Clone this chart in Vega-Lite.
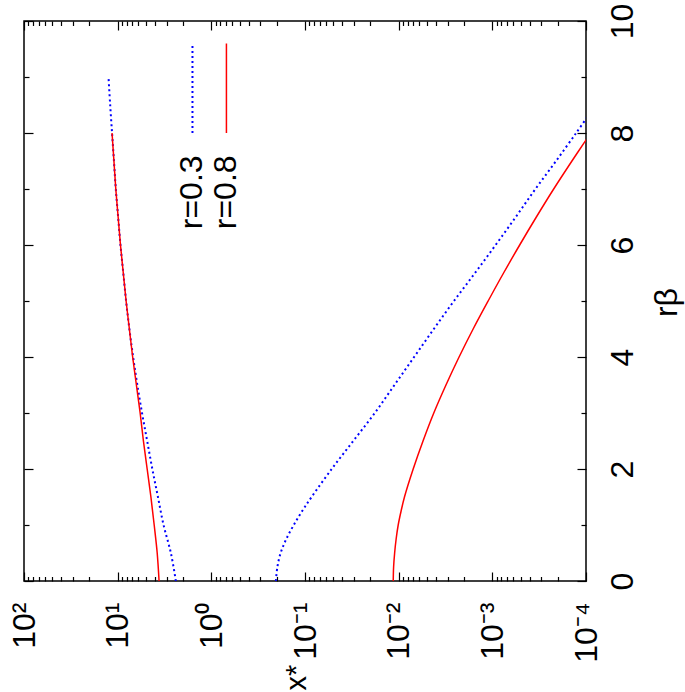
{
  "$schema": "https://vega.github.io/schema/vega-lite/v6.json",
  "width": 562,
  "height": 560,
  "autosize": {"type": "none"},
  "padding": {"left": 24, "top": 21, "right": 99, "bottom": 111},
  "background": "white",
  "config": {
    "view": {"stroke": "#000000", "strokeWidth": 1.5},
    "font": "Liberation Sans",
    "axis": {"domain": false, "grid": false, "tickColor": "#000000", "tickWidth": 1.2, "labelColor": "#000000", "titleColor": "#000000", "labelFont": "Liberation Sans", "titleFont": "Liberation Sans", "labelFontSize": 32, "titleFontSize": 32, "titleFontWeight": "normal", "labelOverlap": false, "labelFlush": false, "labelBound": false}
  },
  "datasets": {
    "curves": [
      {"r": "0.3", "branch": "upper", "rb": 0, "xs": 2.393},
      {"r": "0.3", "branch": "upper", "rb": 0.5, "xs": 2.704},
      {"r": "0.3", "branch": "upper", "rb": 1, "xs": 3.236},
      {"r": "0.3", "branch": "upper", "rb": 1.5, "xs": 3.715},
      {"r": "0.3", "branch": "upper", "rb": 2, "xs": 4.266},
      {"r": "0.3", "branch": "upper", "rb": 2.5, "xs": 4.842},
      {"r": "0.3", "branch": "upper", "rb": 3, "xs": 5.495},
      {"r": "0.3", "branch": "upper", "rb": 3.5, "xs": 6.166},
      {"r": "0.3", "branch": "upper", "rb": 4, "xs": 6.839},
      {"r": "0.3", "branch": "upper", "rb": 4.5, "xs": 7.499},
      {"r": "0.3", "branch": "upper", "rb": 5, "xs": 8.128},
      {"r": "0.3", "branch": "upper", "rb": 5.5, "xs": 8.71},
      {"r": "0.3", "branch": "upper", "rb": 6, "xs": 9.333},
      {"r": "0.3", "branch": "upper", "rb": 6.5, "xs": 9.886},
      {"r": "0.3", "branch": "upper", "rb": 7, "xs": 10.47},
      {"r": "0.3", "branch": "upper", "rb": 7.5, "xs": 10.96},
      {"r": "0.3", "branch": "upper", "rb": 8, "xs": 11.48},
      {"r": "0.3", "branch": "upper", "rb": 8.5, "xs": 12.02},
      {"r": "0.3", "branch": "upper", "rb": 9, "xs": 12.53},
      {"r": "0.3", "branch": "lower", "rb": 0, "xs": 0.2046},
      {"r": "0.3", "branch": "lower", "rb": 0.25, "xs": 0.1972},
      {"r": "0.3", "branch": "lower", "rb": 0.5, "xs": 0.182},
      {"r": "0.3", "branch": "lower", "rb": 0.75, "xs": 0.1585},
      {"r": "0.3", "branch": "lower", "rb": 1, "xs": 0.1318},
      {"r": "0.3", "branch": "lower", "rb": 1.25, "xs": 0.1072},
      {"r": "0.3", "branch": "lower", "rb": 1.5, "xs": 0.08511},
      {"r": "0.3", "branch": "lower", "rb": 2, "xs": 0.05188},
      {"r": "0.3", "branch": "lower", "rb": 2.5, "xs": 0.03055},
      {"r": "0.3", "branch": "lower", "rb": 3, "xs": 0.01799},
      {"r": "0.3", "branch": "lower", "rb": 3.5, "xs": 0.01109},
      {"r": "0.3", "branch": "lower", "rb": 4, "xs": 0.006839},
      {"r": "0.3", "branch": "lower", "rb": 4.5, "xs": 0.004217},
      {"r": "0.3", "branch": "lower", "rb": 5, "xs": 0.00257},
      {"r": "0.3", "branch": "lower", "rb": 5.5, "xs": 0.001531},
      {"r": "0.3", "branch": "lower", "rb": 6, "xs": 0.0009226},
      {"r": "0.3", "branch": "lower", "rb": 6.5, "xs": 0.0005623},
      {"r": "0.3", "branch": "lower", "rb": 7, "xs": 0.0003467},
      {"r": "0.3", "branch": "lower", "rb": 7.5, "xs": 0.0002089},
      {"r": "0.3", "branch": "lower", "rb": 8, "xs": 0.0001274},
      {"r": "0.3", "branch": "lower", "rb": 8.3, "xs": 0.0000955},
      {"r": "0.8", "branch": "upper", "rb": 0, "xs": 3.614},
      {"r": "0.8", "branch": "upper", "rb": 0.5, "xs": 3.784},
      {"r": "0.8", "branch": "upper", "rb": 1, "xs": 4.074},
      {"r": "0.8", "branch": "upper", "rb": 1.5, "xs": 4.416},
      {"r": "0.8", "branch": "upper", "rb": 2, "xs": 4.842},
      {"r": "0.8", "branch": "upper", "rb": 2.5, "xs": 5.309},
      {"r": "0.8", "branch": "upper", "rb": 3, "xs": 5.754},
      {"r": "0.8", "branch": "upper", "rb": 3.5, "xs": 6.31},
      {"r": "0.8", "branch": "upper", "rb": 4, "xs": 6.918},
      {"r": "0.8", "branch": "upper", "rb": 4.5, "xs": 7.499},
      {"r": "0.8", "branch": "upper", "rb": 5, "xs": 8.128},
      {"r": "0.8", "branch": "upper", "rb": 5.5, "xs": 8.71},
      {"r": "0.8", "branch": "upper", "rb": 6, "xs": 9.333},
      {"r": "0.8", "branch": "upper", "rb": 6.5, "xs": 9.886},
      {"r": "0.8", "branch": "upper", "rb": 7, "xs": 10.47},
      {"r": "0.8", "branch": "upper", "rb": 7.5, "xs": 10.96},
      {"r": "0.8", "branch": "upper", "rb": 8, "xs": 11.48},
      {"r": "0.8", "branch": "lower", "rb": 0, "xs": 0.011429},
      {"r": "0.8", "branch": "lower", "rb": 0.25, "xs": 0.011324},
      {"r": "0.8", "branch": "lower", "rb": 0.5, "xs": 0.011041},
      {"r": "0.8", "branch": "lower", "rb": 0.75, "xs": 0.010641},
      {"r": "0.8", "branch": "lower", "rb": 1, "xs": 0.010116},
      {"r": "0.8", "branch": "lower", "rb": 1.25, "xs": 0.009419},
      {"r": "0.8", "branch": "lower", "rb": 1.5, "xs": 0.00867},
      {"r": "0.8", "branch": "lower", "rb": 2, "xs": 0.006998},
      {"r": "0.8", "branch": "lower", "rb": 2.5, "xs": 0.005495},
      {"r": "0.8", "branch": "lower", "rb": 3, "xs": 0.004217},
      {"r": "0.8", "branch": "lower", "rb": 3.5, "xs": 0.003126},
      {"r": "0.8", "branch": "lower", "rb": 4, "xs": 0.002265},
      {"r": "0.8", "branch": "lower", "rb": 4.5, "xs": 0.001603},
      {"r": "0.8", "branch": "lower", "rb": 5, "xs": 0.001109},
      {"r": "0.8", "branch": "lower", "rb": 5.5, "xs": 0.0007586},
      {"r": "0.8", "branch": "lower", "rb": 6, "xs": 0.0005105},
      {"r": "0.8", "branch": "lower", "rb": 6.5, "xs": 0.0003388},
      {"r": "0.8", "branch": "lower", "rb": 7, "xs": 0.0002213},
      {"r": "0.8", "branch": "lower", "rb": 7.5, "xs": 0.0001413},
      {"r": "0.8", "branch": "lower", "rb": 7.9, "xs": 0.00009772}
    ],
    "legend": [
      {"r": "0.3", "label": "r=0.3", "lx": 1.59, "ly0": 8.0, "ly1": 9.57, "lt": 7.6},
      {"r": "0.8", "label": "r=0.8", "lx": 0.69, "ly0": 8.0, "ly1": 9.6, "lt": 7.6}
    ]
  },
  "resolve": {"axis": {"x": "independent", "y": "independent"}},
  "layer": [
    {
      "data": {"name": "curves"},
      "transform": [{"filter": "datum.r == '0.3'"}],
      "mark": {"type": "line", "color": "#0000ff", "strokeWidth": 2, "strokeDash": [2, 3], "clip": true, "interpolate": "catmull-rom"},
      "encoding": {
        "x": {"field": "xs", "type": "quantitative",
          "scale": {"type": "log", "domain": [0.0001, 100], "reverse": true, "nice": false},
          "axis": {"orient": "bottom", "values": [0.0001, 0.001, 0.01, 0.1, 1, 10, 100],
            "labelExpr": "'10' + ['⁻⁴','⁻³','⁻²','⁻¹','⁰','¹','²'][round(log(datum.value)/LN10)+4]",
            "labelAngle": -90, "labelAlign": "right", "labelBaseline": "middle",
            "tickSize": -9, "labelPadding": 30,
            "title": "x*", "titleFontSize": 29, "titleAngle": -90, "titleAlign": "center", "titleBaseline": "middle", "titleX": 272, "titleY": 96}},
        "y": {"field": "rb", "type": "quantitative",
          "scale": {"domain": [0, 10], "nice": false, "zero": false},
          "axis": {"orient": "right", "values": [0, 2, 4, 6, 8, 10],
            "labelAngle": -90, "labelAlign": "center", "labelBaseline": "top",
            "tickSize": -9, "labelPadding": 30,
            "title": "rβ", "titleAngle": -90, "titleAlign": "center", "titleBaseline": "middle", "titleX": 80, "titleY": 281}},
        "detail": {"field": "branch"},
        "order": {"field": "rb", "type": "quantitative"}
      }
    },
    {
      "data": {"name": "curves"},
      "transform": [{"filter": "datum.r == '0.8'"}],
      "mark": {"type": "line", "color": "#ff0000", "strokeWidth": 1.5, "clip": true, "interpolate": "catmull-rom"},
      "encoding": {
        "x": {"field": "xs", "type": "quantitative",
          "scale": {"type": "log", "domain": [0.0001, 100], "reverse": true, "nice": false},
          "axis": {"orient": "bottom", "values": [0.0002, 0.0003, 0.0004, 0.0005, 0.0006, 0.0007, 0.0008, 0.0009, 0.002, 0.003, 0.004, 0.005, 0.006, 0.007, 0.008, 0.009, 0.02, 0.03, 0.04, 0.05, 0.06, 0.07, 0.08, 0.09, 0.2, 0.3, 0.4, 0.5, 0.6, 0.7, 0.8, 0.9, 2, 3, 4, 5, 6, 7, 8, 9, 20, 30, 40, 50, 60, 70, 80, 90],
            "labels": false, "tickSize": -4.5, "title": null}},
        "y": {"field": "rb", "type": "quantitative",
          "scale": {"domain": [0, 10], "nice": false, "zero": false},
          "axis": {"orient": "right", "values": [1, 3, 5, 7, 9], "labels": false, "tickSize": -5, "title": null}},
        "detail": {"field": "branch"},
        "order": {"field": "rb", "type": "quantitative"}
      }
    },
    {
      "data": {"name": "legend"},
      "mark": {"type": "rule"},
      "encoding": {
        "x": {"field": "lx", "type": "quantitative",
          "scale": {"type": "log", "domain": [0.0001, 100], "reverse": true, "nice": false},
          "axis": {"orient": "top", "values": [0.0001, 0.001, 0.01, 0.1, 1, 10, 100], "labels": false, "tickSize": -9, "title": null}},
        "y": {"field": "ly0", "type": "quantitative",
          "scale": {"domain": [0, 10], "nice": false, "zero": false},
          "axis": {"orient": "left", "values": [0, 2, 4, 6, 8, 10], "labels": false, "tickSize": -9, "title": null}},
        "y2": {"field": "ly1"},
        "color": {"field": "r", "type": "nominal", "scale": {"domain": ["0.3", "0.8"], "range": ["#0000ff", "#ff0000"]}, "legend": null},
        "strokeDash": {"field": "r", "type": "nominal", "scale": {"domain": ["0.3", "0.8"], "range": [[2, 3], [1, 0]]}, "legend": null},
        "strokeWidth": {"field": "r", "type": "nominal", "scale": {"domain": ["0.3", "0.8"], "range": [2, 1.5]}, "legend": null}
      }
    },
    {
      "data": {"name": "legend"},
      "mark": {"type": "text", "angle": 270, "align": "right", "baseline": "middle", "fontSize": 32, "font": "Liberation Sans", "color": "#000000"},
      "encoding": {
        "x": {"field": "lx", "type": "quantitative",
          "scale": {"type": "log", "domain": [0.0001, 100], "reverse": true, "nice": false},
          "axis": {"orient": "top", "values": [0.0002, 0.0003, 0.0004, 0.0005, 0.0006, 0.0007, 0.0008, 0.0009, 0.002, 0.003, 0.004, 0.005, 0.006, 0.007, 0.008, 0.009, 0.02, 0.03, 0.04, 0.05, 0.06, 0.07, 0.08, 0.09, 0.2, 0.3, 0.4, 0.5, 0.6, 0.7, 0.8, 0.9, 2, 3, 4, 5, 6, 7, 8, 9, 20, 30, 40, 50, 60, 70, 80, 90],
            "labels": false, "tickSize": -4.5, "title": null}},
        "y": {"field": "lt", "type": "quantitative",
          "scale": {"domain": [0, 10], "nice": false, "zero": false},
          "axis": {"orient": "left", "values": [1, 3, 5, 7, 9], "labels": false, "tickSize": -5, "title": null}},
        "text": {"field": "label"}
      }
    }
  ]
}
